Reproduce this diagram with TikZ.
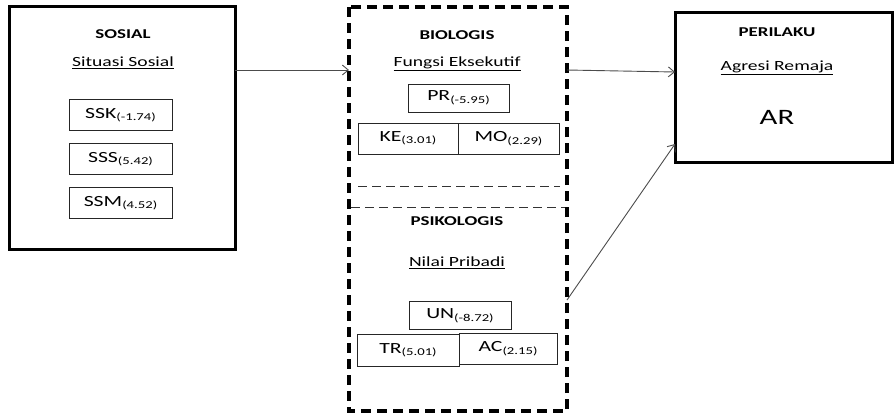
\documentclass[tikz,border=0pt]{standalone}
\usepackage{fontspec}
\setmainfont{Carlito}[FakeStretch=1.4]
\usetikzlibrary{arrows.meta}
\newcommand{\lowsub}[1]{\raisebox{-2.5pt}{\fontsize{10.5}{10.5}\selectfont(#1)}}
\tikzset{
  outerbox/.style={draw=black, line width=3pt},
  dashbox/.style={draw=black, line width=3.2pt, dash pattern=on 10pt off 6pt},
  sepline/.style={draw=black!80, line width=0.9pt, dash pattern=on 9pt off 5pt},
  itembox/.style={draw=black!85, line width=1pt, minimum height=31pt, inner sep=0pt, font=\fontsize{15.5}{15.5}\selectfont},
  title/.style={font=\fontsize{13.5}{13.5}\selectfont\bfseries, inner sep=0pt},
  subtitle/.style={font=\fontsize{14}{14}\selectfont, inner sep=0pt},
  conn/.style={draw=black!70, line width=0.9pt, -{Straight Barb[length=6pt,width=10pt]}}
}
\begin{document}
\begin{tikzpicture}[x=1pt,y=-1pt]
\useasboundingbox (0,0) rectangle (894,413);
% left box
\draw[outerbox] (9,6) rectangle (235,249);
\node[title] (sosial) at (123,34) {SOSIAL};
\node[subtitle] (sitsos) at (123,63) {\underline{Situasi\ Sosial}};
\node[itembox, minimum width=103pt] (ssk) at (120.5,115) {SSK\lowsub{-1.74}};
\node[itembox, minimum width=103pt] (sss) at (120.5,159) {SSS\lowsub{5.42}};
\node[itembox, minimum width=103pt] (ssm) at (120.5,203) {SSM\lowsub{4.52}};
\coordinate (leftR) at (235,70);
% middle dashed box
\draw[dashbox] (349,7) rectangle (567,411);
\coordinate (midL) at (349,70);
\coordinate (midR) at (567,70);
\coordinate (midR2) at (567,300);
\node[title] (bio) at (457,35) {BIOLOGIS};
\node[subtitle] (fe) at (457,64) {\underline{Fungsi\ Eksekutif}};
\node[itembox, minimum width=101pt, minimum height=28pt] (pr) at (458.5,98) {PR\lowsub{-5.95}};
\node[itembox, minimum width=100pt] (ke) at (408,138.5) {KE\lowsub{3.01}};
\node[itembox, minimum width=101pt] (mo) at (508.5,138.5) {MO\lowsub{2.29}};
\draw[sepline] (358,186) -- (560,186);
\draw[sepline] (351,207) -- (565,207);
\node[title] (psi) at (457,221) {PSIKOLOGIS};
\node[subtitle] (np) at (457,263) {\underline{Nilai\ Pribadi}};
\node[itembox, minimum width=102pt, minimum height=28pt] (un) at (460,315.5) {UN\lowsub{-8.72}};
\node[itembox, minimum width=102pt, minimum height=32pt] (tr) at (408,350) {TR\lowsub{5.01}};
\node[itembox, minimum width=98pt] (ac) at (508,348.5) {AC\lowsub{2.15}};
% right box
\draw[outerbox] (675,12) rectangle (892,162);
\node[title] (peri) at (777,32) {PERILAKU};
\node[subtitle] (agr) at (777,68) {\underline{Agresi\ Remaja}};
\node[font=\fontsize{22}{22}\selectfont, inner sep=0pt] (ar) at (777,117) {AR};
\coordinate (rightL) at (675,72);
\coordinate (rightL2) at (675,144);
% connectors
\draw[conn] (leftR) -- (midL);
\draw[conn] (midR) -- (rightL);
\draw[conn] (midR2) -- (rightL2);
\end{tikzpicture}
\end{document}
